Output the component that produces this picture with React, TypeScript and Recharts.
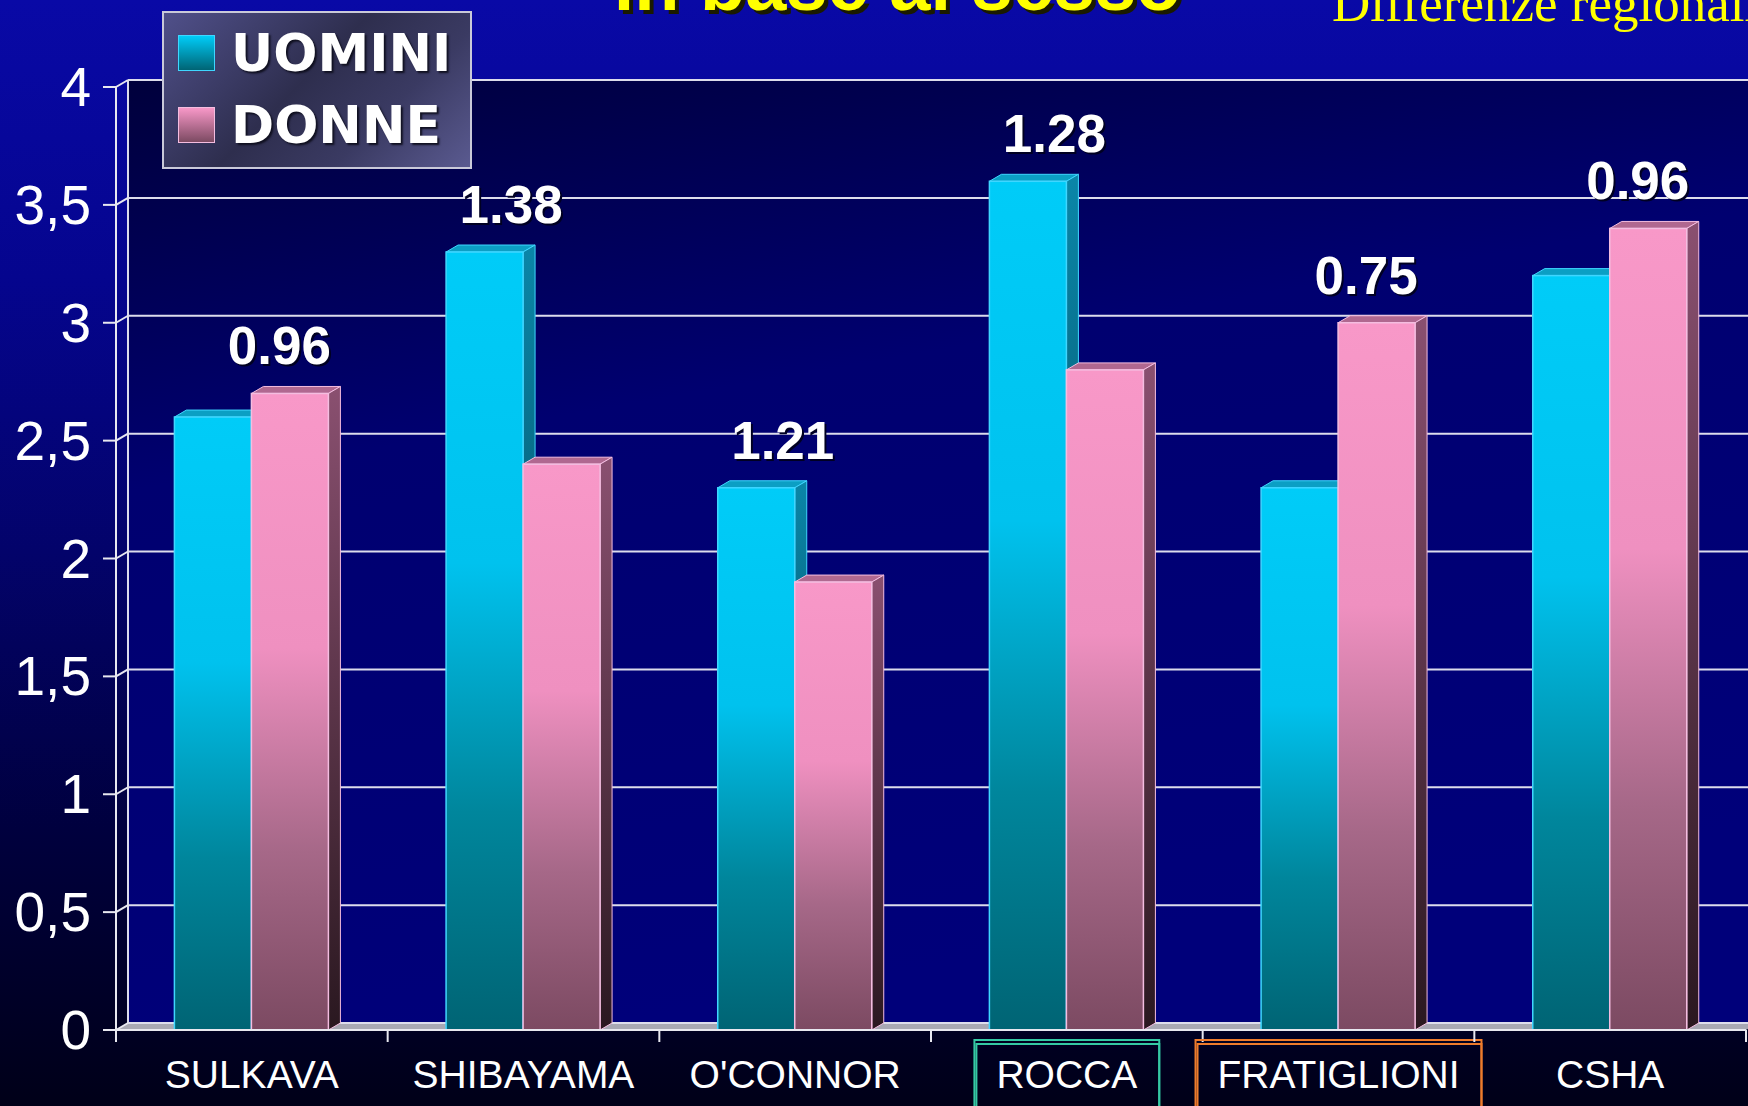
import React from 'react';
import { Bar, BarChart, CartesianGrid, LabelList, Legend, ReferenceArea, XAxis, YAxis } from 'recharts';

// study names, men / women values and the M/F ratio printed above each group
const studies = ['SULKAVA', 'SHIBAYAMA', "O'CONNOR", 'ROCCA', 'FRATIGLIONI', 'CSHA'];
const uomini = [2.6, 3.3, 2.3, 3.6, 2.3, 3.2];
const donne = [2.7, 2.4, 1.9, 2.8, 3.0, 3.4];
const ratios = ['0.96', '1.38', '1.21', '1.28', '0.75', '0.96'];
const yTicks = [0, 0.5, 1, 1.5, 2, 2.5, 3, 3.5, 4];
const seriesOrder = ['uomini', 'donne'];
const boxedLabels: Record<string, string> = { ROCCA: '#35c9a4', FRATIGLIONI: '#ee7b2c' };

const data = studies.map((name, i) => ({ name, uomini: uomini[i], donne: donne[i], ratio: ratios[i] }));

const W = 1748;
const H = 1106;
const AXIS_W = 116;
const RIGHT = 2;
const BAND = (W - AXIS_W - RIGHT) / studies.length;
const DX = 12; // 3d depth
const DY = 7;
const SANS = '"Liberation Sans", Arial, sans-serif';

const colors = {
  uomini: { top: '#0b9fc4', edge: '#3fd6ff' },
  donne: { top: '#b06890', edge: '#f4bde0' },
};

const measure = (txt: string, font: string) => {
  const ctx = document.createElement('canvas').getContext('2d');
  if (!ctx) return txt.length * 22;
  ctx.font = font;
  return ctx.measureText(txt).width;
};

const makeBar = (kind: 'uomini' | 'donne') => (p: any) => {
  const { x, y, width, height } = p;
  if (!height) return <g />;
  const c = colors[kind];
  return (
    <g>
      <polygon
        points={`${x},${y} ${x + DX},${y - DY} ${x + width + DX},${y - DY} ${x + width},${y}`}
        fill={c.top}
        stroke={c.edge}
        strokeWidth={1}
      />
      <polygon
        points={`${x + width},${y} ${x + width + DX},${y - DY} ${x + width + DX},${y + height - DY} ${x + width},${y + height}`}
        fill={`url(#side-${kind})`}
        stroke={c.edge}
        strokeWidth={1}
      />
      <rect x={x} y={y} width={width} height={height} fill={`url(#front-${kind})`} stroke={c.edge} strokeWidth={1.5} />
    </g>
  );
};

const renderWall = (p: any) => {
  const { x, y, width, height } = p;
  const bottom = y + height;
  return (
    <g>
      <rect x={x + DX} y={y - DY} width={width} height={height} fill="url(#wall)" />
      <polygon
        points={`${x},${bottom} ${x + DX},${bottom - DY} ${x + width + DX},${bottom - DY} ${x + width},${bottom}`}
        fill="#a8a8b4"
      />
      <line x1={x + DX} y1={y - DY} x2={x + DX} y2={bottom - DY} stroke="#dcdcec" strokeWidth={2} />
    </g>
  );
};

const YTick = (p: any) => {
  const { x, y, payload } = p;
  return (
    <g>
      <line x1={x - 13} y1={y} x2={x} y2={y} stroke="#e8e8f0" strokeWidth={2} />
      <line x1={x} y1={y} x2={x + DX} y2={y - DY} stroke="#e8e8f0" strokeWidth={2} />
      <text x={x - 25} y={y} dy={19} textAnchor="end" fontSize={55} fill="#ffffff" fontFamily={SANS}>
        {String(payload.value).replace('.', ',')}
      </text>
    </g>
  );
};

const XTick = (p: any) => {
  const { x, y, payload, index } = p;
  const label = String(payload.value);
  const box = boxedLabels[label];
  const fontSize = 39;
  const tw = box ? measure(label, `${fontSize}px "Liberation Sans"`) : 0;
  return (
    <g>
      <line x1={x - BAND / 2} y1={y} x2={x - BAND / 2} y2={y + 12} stroke="#e8e8f0" strokeWidth={2} />
      {index === studies.length - 1 && (
        <line x1={x + BAND / 2} y1={y} x2={x + BAND / 2} y2={y + 12} stroke="#e8e8f0" strokeWidth={2} />
      )}
      {index === 0 && <line x1={x - BAND / 2 - 12} y1={y} x2={x - BAND / 2} y2={y} stroke="#e8e8f0" strokeWidth={2} />}
      {box && (
        <g fill="none" stroke={box} strokeWidth={2}>
          <rect x={x - tw / 2 - 22} y={y + 10} width={tw + 44} height={80} />
          <rect x={x - tw / 2 - 20} y={y + 14} width={tw + 42} height={80} />
        </g>
      )}
      <text x={x} y={y + 58} textAnchor="middle" fontSize={fontSize} fill="#ffffff" fontFamily={SANS}>
        {label}
      </text>
    </g>
  );
};

const RatioLabel = (p: any) => {
  const { x, y, width, height } = p;
  const i = typeof p.index === 'number' ? p.index : Math.floor((x - AXIS_W) / BAND);
  if (i < 0 || i >= studies.length || !height) return null;
  const tallest = Math.max(uomini[i], donne[i]);
  const base = y + height;
  const top = base - (tallest / donne[i]) * height - DY;
  const cx = x + (donne[i] >= uomini[i] ? 28 : -12);
  const common = {
    x: cx,
    y: top - 22,
    textAnchor: 'middle' as const,
    fontSize: 53,
    fontWeight: 700,
    fontFamily: SANS,
  };
  return (
    <g>
      <text {...common} dx={2} dy={2} fill="#000022">{ratios[i]}</text>
      <text {...common} fill="#ffffff">{ratios[i]}</text>
    </g>
  );
};

const renderLegend = (props: any) => {
  const payload = [...(props.payload || [])].sort(
    (a: any, b: any) => seriesOrder.indexOf(a.dataKey) - seriesOrder.indexOf(b.dataKey)
  );
  return (
    <div
      style={{
        width: 306,
        height: 150,
        border: '2px solid #c9c9d9',
        background: 'linear-gradient(135deg, #50508a 0%, #2e2e4e 45%, #3a3a62 70%, #5a5a90 100%)',
        boxSizing: 'content-box',
        paddingTop: 4,
      }}
    >
      {payload.map((entry: any) => (
        <div key={entry.value} style={{ display: 'flex', alignItems: 'center', height: 72 }}>
          <div
            style={{
              width: 35,
              height: 34,
              marginLeft: 14,
              marginRight: 16,
              border: `1px solid ${colors[entry.dataKey as 'uomini' | 'donne'].edge}`,
              background:
                entry.dataKey === 'uomini'
                  ? 'linear-gradient(#00ccf8, #006474)'
                  : 'linear-gradient(#f898c8, #7c4a62)',
            }}
          />
          <span
            style={{
              color: '#ffffff',
              fontFamily: '"DejaVu Sans", Verdana, sans-serif',
              fontWeight: 700,
              fontSize: 52,
              textShadow: '2px 2px 2px #101020',
              lineHeight: 1,
            }}
          >
            {entry.value}
          </span>
        </div>
      ))}
    </div>
  );
};

const App = () => {
  return (
    <div
      style={{
        position: 'absolute',
        left: 0,
        top: 0,
        width: W,
        height: H,
        overflow: 'hidden',
        background: 'linear-gradient(180deg, #0909a6 0%, #05058e 25%, #03036a 50%, #00003e 75%, #000018 100%)',
      }}
    >
      <div
        style={{
          position: 'absolute',
          left: 0,
          width: 1795,
          top: -65,
          textAlign: 'center',
          fontFamily: SANS,
          fontWeight: 700,
          fontSize: 74,
          color: '#ffff00',
          textShadow: '4px 4px 0 #1a1a00',
          whiteSpace: 'nowrap',
          lineHeight: '100px',
        }}
      >
        in base al sesso
      </div>
      <div
        style={{
          position: 'absolute',
          left: 1332,
          top: -27,
          fontFamily: '"Liberation Serif", "Times New Roman", serif',
          fontSize: 53,
          color: '#ffff00',
          whiteSpace: 'nowrap',
          lineHeight: '60px',
        }}
      >
        Differenze regionali
      </div>
      <BarChart
        width={W}
        height={H}
        data={data}
        margin={{ top: 87, right: RIGHT, bottom: 0, left: 0 }}
        barCategoryGap="21.5%"
        barGap={0}
      >
        <defs>
          <linearGradient id="wall" x1="0" y1="0" x2="0.3" y2="1">
            <stop offset="0%" stopColor="#00003c" />
            <stop offset="40%" stopColor="#000070" />
            <stop offset="100%" stopColor="#00007a" />
          </linearGradient>
          <linearGradient id="front-uomini" x1="0" y1="0" x2="0" y2="1">
            <stop offset="0%" stopColor="#00ccf8" />
            <stop offset="40%" stopColor="#00c2ee" />
            <stop offset="72%" stopColor="#00869c" />
            <stop offset="100%" stopColor="#006474" />
          </linearGradient>
          <linearGradient id="front-donne" x1="0" y1="0" x2="0" y2="1">
            <stop offset="0%" stopColor="#f898c8" />
            <stop offset="40%" stopColor="#ef90c0" />
            <stop offset="72%" stopColor="#a66888" />
            <stop offset="100%" stopColor="#7c4a62" />
          </linearGradient>
          <linearGradient id="side-uomini" x1="0" y1="0" x2="0" y2="1">
            <stop offset="0%" stopColor="#0a86a8" />
            <stop offset="100%" stopColor="#00303c" />
          </linearGradient>
          <linearGradient id="side-donne" x1="0" y1="0" x2="0" y2="1">
            <stop offset="0%" stopColor="#8a5070" />
            <stop offset="100%" stopColor="#2a1820" />
          </linearGradient>
        </defs>
        <ReferenceArea y1={0} y2={4} shape={renderWall} ifOverflow="visible" {...({ zIndex: -200 } as any)} />
        <CartesianGrid
          vertical={false}
          horizontal={(g: any) => (
            <line
              key={g.key}
              x1={g.x1 + DX}
              y1={g.y1 - DY}
              x2={W}
              y2={g.y2 - DY}
              stroke="#dcdcec"
              strokeWidth={2}
            />
          )}
        />
        <XAxis
          dataKey="name"
          height={H - 1030}
          interval={0}
          tickLine={false}
          tickSize={0}
          tickMargin={0}
          axisLine={{ stroke: '#e8e8f0', strokeWidth: 2 }}
          tick={<XTick />}
        />
        <YAxis
          type="number"
          domain={[0, 4]}
          ticks={yTicks}
          interval={0}
          width={AXIS_W}
          tickLine={false}
          tickSize={0}
          tickMargin={0}
          axisLine={{ stroke: '#e8e8f0', strokeWidth: 2 }}
          tick={<YTick />}
        />
        <Legend
          layout="vertical"
          align="center"
          verticalAlign="middle"
          content={renderLegend}
          wrapperStyle={{ left: 162, top: 11, width: 310, height: 156 }}
        />
        <Bar dataKey="uomini" name="UOMINI" fill="#00c8f8" shape={makeBar('uomini')} isAnimationActive={false} />
        <Bar dataKey="donne" name="DONNE" fill="#f593c3" shape={makeBar('donne')} isAnimationActive={false}>
          <LabelList dataKey="ratio" content={RatioLabel} />
        </Bar>
      </BarChart>
    </div>
  );
};

export default App;
